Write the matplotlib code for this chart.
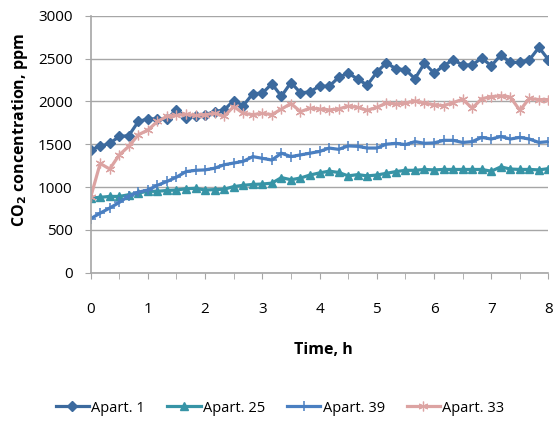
import numpy as np
import matplotlib
matplotlib.use("Agg")
import matplotlib.pyplot as plt
import matplotlib.font_manager as fm

# ============================================================
# 字体
# ============================================================
_available = {f.name for f in fm.fontManager.ttflist}
FONT = "Open Sans" if "Open Sans" in _available else "DejaVu Sans"
plt.rcParams["font.family"] = [FONT, "DejaVu Sans"]

# ============================================================
# 数据: 每 10 分钟一次的 CO2 浓度 (ppm)
# ============================================================
TIME_MIN = list(range(0, 481, 10))

APART_1 = [1435, 1475, 1510, 1590, 1600, 1765, 1795, 1795, 1790, 1905,
           1805, 1825, 1845, 1880, 1900, 2010, 1950, 2090, 2095, 2205,
           2060, 2220, 2100, 2110, 2180, 2175, 2280, 2330, 2260, 2190,
           2340, 2450, 2380, 2370, 2265, 2445, 2330, 2415, 2485, 2425,
           2425, 2505, 2415, 2540, 2455, 2455, 2485, 2630, 2485]

APART_25 = [870, 880, 890, 890, 910, 930, 950, 950, 960, 965,
            980, 985, 965, 970, 975, 1005, 1020, 1030, 1035, 1045,
            1110, 1085, 1105, 1140, 1165, 1185, 1170, 1130, 1145, 1130,
            1140, 1160, 1180, 1195, 1195, 1205, 1200, 1205, 1205, 1205,
            1205, 1205, 1185, 1235, 1210, 1205, 1205, 1200, 1215]

APART_39 = [630, 695, 755, 820, 895, 940, 965, 1020, 1065, 1115,
            1180, 1195, 1200, 1220, 1260, 1280, 1300, 1355, 1335, 1315,
            1395, 1355, 1375, 1395, 1415, 1455, 1440, 1480, 1475, 1455,
            1455, 1500, 1510, 1495, 1530, 1510, 1515, 1545, 1545, 1520,
            1530, 1580, 1560, 1590, 1560, 1580, 1560, 1520, 1530]

APART_33 = [880, 1275, 1210, 1375, 1475, 1610, 1665, 1765, 1825, 1835,
            1850, 1835, 1845, 1860, 1825, 1940, 1860, 1845, 1860, 1845,
            1910, 1975, 1880, 1920, 1910, 1900, 1910, 1945, 1930, 1895,
            1930, 1980, 1970, 1980, 2005, 1980, 1960, 1950, 1985, 2025,
            1920, 2030, 2055, 2065, 2050, 1895, 2035, 2020, 2020]

SERIES = [
    ("Apart. 1", APART_1, "#3C6A9E", "D", 4.6, 1.0),
    ("Apart. 25", APART_25, "#3794A6", "^", 5.2, 1.0),
    ("Apart. 39", APART_39, "#4A7FC1", "+", 6.5, 1.1),
    ("Apart. 33", APART_33, "#DCA3A2", (6, 2, 0), 7.0, 0.9),
]

GRID_GRAY = "#A6A6A6"


def draw_chart():
    fig = plt.figure(figsize=(5.56, 4.21), dpi=100)
    ax = fig.add_axes([0.163, 0.3523, 0.8235, 0.6104])

    hours = np.array(TIME_MIN) / 60.0
    for name, values, color, marker, ms, mew in SERIES:
        ax.plot(hours, values, color=color, linewidth=2.3, marker=marker,
                markersize=ms, markeredgewidth=mew, markeredgecolor=color,
                label=name)

    ax.set_xlim(0, 8)
    ax.set_ylim(0, 3000)
    ax.set_yticks(range(0, 3001, 500))
    ax.set_xticks(range(0, 9))
    ax.set_xticks(np.arange(0.5, 8, 1.0), minor=True)

    ax.grid(axis="y", color=GRID_GRAY, linewidth=1.0)
    ax.set_axisbelow(True)
    for side in ("top", "right"):
        ax.spines[side].set_visible(False)
    for side in ("left", "bottom"):
        ax.spines[side].set_color(GRID_GRAY)
        ax.spines[side].set_linewidth(1.2)

    ax.tick_params(axis="x", which="both", direction="out", length=4,
                   color=GRID_GRAY, pad=17, labelsize=11)
    ax.tick_params(axis="y", direction="out", length=4, color=GRID_GRAY,
                   pad=9, labelsize=11)

    # 轴标题
    fig.text(323 / 556, 1 - 350 / 421, "Time, h", ha="center", va="center",
             fontsize=11.5, fontweight="bold")
    fig.text(20 / 556, 1 - 130 / 421, "CO$_\\mathbf{2}$ concentration, ppm",
             ha="center", va="center", rotation=90, fontsize=11.5,
             fontweight="bold")

    # 图例
    fig.legend(loc="center", bbox_to_anchor=(280 / 556, 1 - 408 / 421),
               ncol=4, frameon=False, fontsize=10.5, handlelength=2.3,
               handletextpad=0.15, columnspacing=1.5, borderaxespad=0)

    fig.savefig("out.png", dpi=100)
    plt.close(fig)


draw_chart()
